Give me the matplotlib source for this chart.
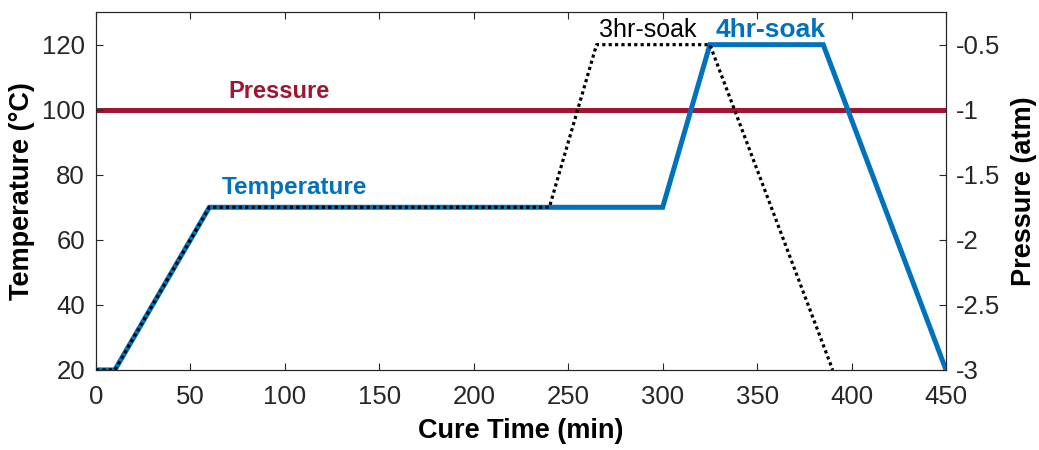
import numpy as np
import matplotlib.pyplot as plt

plt.rcParams['font.family'] = ['Liberation Sans', 'DejaVu Sans']

# 4hr soak profile
t_4hr = [0, 10, 60, 300, 325, 385, 450]
temp_4hr = [20, 20, 70, 70, 120, 120, 20]
# 3hr soak profile
t_3hr = [0, 10, 60, 240, 265, 325, 390]
temp_3hr = [20, 20, 70, 70, 120, 120, 20]
# pressure
t_p = [0, 450]
pressure = [-1, -1]

blue = '#0072BD'
red = '#A2142F'

fig, ax = plt.subplots(figsize=(10.39, 4.5), dpi=100)
fig.subplots_adjust(left=0.0924, right=0.9105, top=0.973, bottom=0.178)

ax.plot(t_4hr, temp_4hr, color=blue, lw=3.6, solid_joinstyle='miter', zorder=3)
ax.plot(t_3hr, temp_3hr, color='black', lw=2.3, linestyle=(0, (1, 1)), zorder=4)
ax.set_xlim(0, 450)
ax.set_ylim(20, 130)
ax.set_xticks(np.arange(0, 451, 50))
ax.set_yticks(np.arange(20, 121, 20))
ax.set_xlabel('Cure Time (min)', fontsize=19.5, fontweight='bold', labelpad=6)
ax.set_ylabel('Temperature (\u00b0C)', fontsize=19.5, fontweight='bold', labelpad=5)

ax2 = ax.twinx()
ax2.plot(t_p, pressure, color=red, lw=3.6, zorder=2)
ax2.set_ylim(-3, -0.25)
ax2.set_yticks([-3, -2.5, -2, -1.5, -1, -0.5])
ax2.set_yticklabels(['-3', '-2.5', '-2', '-1.5', '-1', '-0.5'])
ax2.set_ylabel('Pressure (atm)', fontsize=19.5, fontweight='bold', labelpad=8)
ax.set_zorder(ax2.get_zorder() + 1)
ax.patch.set_visible(False)

for a in (ax, ax2):
    a.tick_params(direction='in', labelsize=18.5, length=5, width=0.8, colors='#262626')
    for s in a.spines.values():
        s.set_color('#262626')
        s.set_linewidth(0.8)
ax.tick_params(axis='x', pad=11)
ax.tick_params(axis='y', pad=8)
ax2.tick_params(axis='y', pad=7)
ax.tick_params(top=True, right=False)

ax.text(97, 105.5, 'Pressure', color=red, fontsize=17, fontweight='bold', ha='center', va='center')
ax.text(105, 76, 'Temperature', color=blue, fontsize=17.5, fontweight='bold', ha='center', va='center')
ax.text(292, 124.5, '3hr-soak', color='black', fontsize=18, ha='center', va='center')
ax.text(357, 124.5, '4hr-soak', color=blue, fontsize=19, fontweight='bold', ha='center', va='center')

plt.savefig('out.png', dpi=100)
